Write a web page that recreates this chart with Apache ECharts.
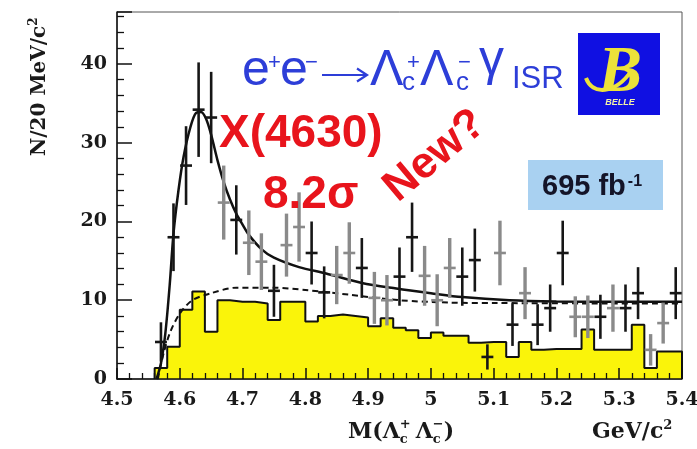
<!DOCTYPE html>
<html><head><meta charset="utf-8">
<script src="https://cdn.jsdelivr.net/npm/echarts@6/dist/echarts.min.js"></script>
<style>html,body{margin:0;padding:0;background:#fff}#c{width:697px;height:449px}</style>
</head><body><div id="c"></div>
<script>
// ---- data ----
const dataMass = [4.57,4.59,4.61,4.63,4.65,4.67,4.69,4.71,4.73,4.75,4.77,4.79,4.81,4.83,4.85,4.87,4.89,4.91,4.93,4.95,4.97,4.99,5.01,5.03,5.05,5.07,5.09,5.11,5.13,5.15,5.17,5.19,5.21,5.23,5.25,5.27,5.29,5.31,5.33,5.35,5.37,5.39];
const dataCounts = [4.7,18.0,27.1,34.2,33.2,22.4,20.2,17.3,14.9,11.2,17.0,19.3,16.0,11.0,13.2,16.0,14.1,10.3,10.0,13.0,18.0,13.1,10.0,14.1,13.0,15.1,2.8,16.0,6.9,10.9,6.9,9.0,16.0,7.9,7.9,7.9,9.0,9.0,10.9,3.7,7.1,10.9];
const dataErrors = [2.5,4.3,5.0,6.0,5.8,4.7,4.4,4.1,3.6,3.3,4.0,4.4,4.0,3.3,3.7,3.9,3.8,3.3,3.2,3.7,4.4,3.8,3.3,3.8,3.7,4.0,1.6,4.1,2.7,3.3,2.6,3.0,4.1,2.6,2.7,2.8,3.0,3.0,3.3,2.0,2.6,3.3];
const dataShade = [0,0,0,0,0,1,0,1,1,0,1,1,0,0,1,1,0,1,1,0,0,1,1,1,0,0,0,1,0,1,0,0,0,1,1,0,1,0,0,1,1,0]; // 0 = black, 1 = grey

const histEdges = [4.56,4.58,4.60,4.62,4.64,4.66,4.68,4.70,4.72,4.74,4.76,4.78,4.80,4.82,4.84,4.86,4.88,4.90,4.92,4.94,4.96,4.98,5.00,5.02,5.04,5.06,5.08,5.10,5.12,5.14,5.16,5.18,5.20,5.22,5.24,5.26,5.28,5.30,5.32,5.34,5.36,5.38,5.40];
const histValues = [1.4,4.1,8.8,11.1,6.0,10.0,9.8,9.8,9.6,7.5,9.8,9.8,7.3,8.0,8.2,8.0,7.8,6.7,7.7,6.5,6.2,5.2,5.9,5.5,5.5,4.6,4.7,4.7,2.8,4.7,3.7,3.8,3.8,3.8,6.3,3.7,3.7,3.7,6.9,1.4,3.5,3.5];

const fitMass  = [4.563,4.570,4.577,4.584,4.590,4.598,4.606,4.617,4.626,4.634,4.642,4.650,4.660,4.670,4.680,4.690,4.700,4.710,4.730,4.750,4.790,4.833,4.890,4.945,5.000,5.050,5.125,5.200,5.300,5.400];
const fitTotal = [0,2.0,5.8,12.0,18.5,24.0,28.2,32.0,33.8,33.9,33.0,31.0,27.8,25.0,22.8,21.0,19.6,18.3,16.5,15.4,14.2,13.4,12.2,11.5,10.9,10.4,10.0,9.85,9.8,9.8];

const bkgMass = [4.565,4.575,4.585,4.600,4.620,4.650,4.690,4.750,4.800,4.870,4.950,5.030,5.100,5.250,5.400];
const bkgFit  = [0,3.5,6.0,8.3,10.0,10.9,11.6,11.6,11.3,10.7,10.0,9.7,9.65,9.6,9.6];

const xMin = 4.5, xMax = 5.4, xStep = 0.1;
const yMin = 0, yMax = 46.6, yStep = 10;

// ---- build series data ----
const histLine = [[histEdges[0], 0]];
histValues.forEach((v, i) => { histLine.push([histEdges[i], v]); histLine.push([histEdges[i + 1], v]); });
histLine.push([histEdges[histEdges.length - 1], 0]);

const pointsBlack = [], pointsGrey = [];
dataMass.forEach((m, i) => {
  (dataShade[i] ? pointsGrey : pointsBlack).push([m, dataCounts[i], dataErrors[i]]);
});
const totalLine = fitMass.map((m, i) => [m, fitTotal[i]]);
const bkgLine = bkgMass.map((m, i) => [m, bkgFit[i]]);

function barRenderer(color, vw) {
  return function (params, api) {
    const m = api.value(0), v = api.value(1), e = api.value(2);
    const top = api.coord([m, v + e]), bot = api.coord([m, Math.max(v - e, 0)]);
    const l = api.coord([m - 0.0095, v]), r = api.coord([m + 0.0095, v]);
    return { type: 'group', children: [
      { type: 'line', shape: { x1: top[0], y1: top[1], x2: bot[0], y2: bot[1] }, style: { stroke: color, lineWidth: vw } },
      { type: 'line', shape: { x1: l[0], y1: l[1], x2: r[0], y2: r[1] }, style: { stroke: color, lineWidth: 2.6 } }
    ]};
  };
}

// ---- text helpers ----
const mctx = document.createElement('canvas').getContext('2d');
function fontStr(size, bold, family, italic) { return (italic ? 'italic ' : '') + (bold ? 'bold ' : '') + size + 'px "' + family + '"'; }
function textW(t, font) { mctx.font = font; return mctx.measureText(t).width; }
function txt(t, x, base, size, opt) {
  opt = opt || {};
  const fam = opt.family || 'Liberation Sans';
  const k = fam.indexOf('DejaVu') >= 0 ? 0.38 : (fam.indexOf('Serif') >= 0 ? 0.3375 : 0.3465);
  const st = { text: t, font: fontStr(size, opt.bold, fam, opt.italic), fill: opt.fill || '#000',
    align: opt.align || 'left', verticalAlign: 'middle' };
  if (opt.shadow) { st.shadowColor = opt.shadow; st.shadowOffsetX = 2.5; st.shadowOffsetY = 2.5; st.shadowBlur = 1; }
  const el = { type: 'text', x: x, y: base - k * size, z: 100, silent: true, style: st };
  if (opt.rotation) el.rotation = opt.rotation;
  return el;
}
function row(x0, base, parts, common) {
  let x = x0; const out = [];
  for (const p of parts) {
    if (p.gap) { x += p.gap; continue; }
    const o = Object.assign({}, common, p.opt || {});
    out.push(txt(p.t, x, base + (p.dy || 0), p.size, o));
    if (!p.noAdvance) x += textW(p.t, fontStr(p.size, o.bold, o.family || 'Liberation Sans', o.italic));
  }
  return out;
}

const blue = '#2d3ed8', red = '#e8141c', redShadow = '#7a0000';
const serifB = { family: 'DejaVu Serif', bold: true, fill: '#1a1a1a' };

const graphics = [];
// formula e+e- -> Lc+ Lc- gamma_ISR
const formula = [
  ['e', 242, 89, 50], ['+', 268, 71, 22], ['e', 280, 89, 50], ['\u2212', 305, 71, 22],
  ['\u039B', 370, 89, 50], ['c', 402, 92, 26], ['+', 407, 71, 22],
  ['\u039B', 420, 89, 50], ['c', 456, 92, 26], ['\u2212', 458, 71, 22], ['\u03B3', 479, 79, 50], ['ISR', 512, 90, 31]
];
formula.forEach(f => graphics.push(txt(f[0], f[1], f[2], f[3], { fill: blue })));
// long arrow
graphics.push({ type: 'line', z: 100, silent: true, shape: { x1: 322, y1: 75, x2: 366, y2: 75 }, style: { stroke: blue, lineWidth: 2.2 } });
graphics.push({ type: 'polyline', z: 100, silent: true, shape: { points: [[357, 68.5], [367, 75], [357, 81.5]] }, style: { stroke: blue, lineWidth: 2.2, fill: null } });

// Belle logo
graphics.push({ type: 'rect', z: 90, silent: true, shape: { x: 578, y: 33, width: 82, height: 82 }, style: { fill: '#1010e2' } });
graphics.push({ type: 'bezierCurve', z: 95, silent: true, shape: { x1: 586, y1: 78, cpx1: 592, cpy1: 95, x2: 632, y2: 70, cpx2: 615, cpy2: 95 }, style: { stroke: '#ece23a', lineWidth: 4, fill: null } });
graphics.push(txt('B', 620, 96, 66, { family: 'Liberation Serif', italic: true, bold: true, fill: '#ece23a', align: 'center' }));
graphics.push(txt('BELLE', 620, 106, 9, { italic: true, bold: true, fill: '#f2f0a8', align: 'center' }));

// red labels
graphics.push(txt('X(4630)', 219, 150, 46, { bold: true, fill: red, shadow: redShadow }));
graphics.push(txt('8.2\u03C3', 263, 211, 46, { bold: true, fill: red, shadow: redShadow }));
graphics.push({ type: 'text', x: 435, y: 156, rotation: 40 * Math.PI / 180, z: 100, silent: true,
  style: { text: 'New?', font: 'bold 44px "Liberation Sans"', fill: red, align: 'center', verticalAlign: 'middle',
    shadowColor: redShadow, shadowOffsetX: 2.5, shadowOffsetY: 2.5, shadowBlur: 1 } });

// luminosity box
graphics.push({ type: 'rect', z: 90, silent: true, shape: { x: 528, y: 160, width: 135, height: 50 }, style: { fill: '#a9d1f1' } });
graphics.push(...row(542, 197, [{ t: '695 fb', size: 29 }, { gap: 2 }, { t: '-1', size: 16, dy: -10 }], { bold: true, fill: '#141428' }));

// y axis title (rotated)
graphics.push({ type: 'group', x: 40, y: 86, rotation: Math.PI / 2, silent: true,
  children: row(-70, 7, [{ t: 'N/20 MeV/c', size: 20 }, { t: '2', size: 12, dy: -9 }], serifB) });

// x axis title
graphics.push(...row(348, 441, [
  { t: 'M(\u039B', size: 22 }, { t: 'c', size: 13, dy: 4, noAdvance: true }, { t: '+', size: 13, dy: -11 },
  { gap: 5 }, { t: '\u039B', size: 22 }, { t: 'c', size: 13, dy: 4, noAdvance: true }, { t: '\u2212', size: 13, dy: -11 },
  { t: ')', size: 22 }
], serifB));
graphics.push(...row(592, 441, [{ t: 'GeV/c', size: 22 }, { t: '2', size: 13, dy: -10 }], serifB));

const axisLabelFont = { color: '#1a1a1a', fontFamily: 'DejaVu Serif', fontWeight: 'bold' };

const chart = echarts.init(document.getElementById('c'), null, { renderer: 'canvas', width: 697, height: 449 });
chart.setOption({
  animation: false,
  backgroundColor: '#ffffff',
  grid: { left: 117, right: 15, top: 12, bottom: 70, show: true, borderColor: '#555', borderWidth: 1, outerBoundsMode: 'none', containLabel: false },
  xAxis: {
    type: 'value', min: xMin, max: xMax, interval: xStep, z: 10,
    axisLine: { show: true, onZero: false, lineStyle: { color: '#111', width: 1.5 } },
    axisTick: { show: true, inside: true, length: 11, lineStyle: { color: '#111', width: 1.5 } },
    minorTick: { show: true, splitNumber: 5, length: 6, lineStyle: { color: '#111', width: 1.3 } },
    splitLine: { show: false }, minorSplitLine: { show: false },
    axisLabel: Object.assign({ margin: 12, fontSize: 19 }, axisLabelFont)
  },
  yAxis: {
    type: 'value', min: yMin, max: yMax, interval: yStep, z: 10,
    axisLine: { show: true, onZero: false, lineStyle: { color: '#111', width: 1.5 } },
    axisTick: { show: true, inside: true, length: 15, lineStyle: { color: '#111', width: 1.5 } },
    minorTick: { show: true, splitNumber: 5, length: 7, lineStyle: { color: '#111', width: 1.3 } },
    splitLine: { show: false }, minorSplitLine: { show: false },
    axisLabel: Object.assign({ margin: 10, fontSize: 19, showMaxLabel: false }, axisLabelFont)
  },
  series: [
    { type: 'line', data: histLine, symbol: 'none', z: 2, silent: true,
      lineStyle: { color: '#111', width: 2 }, areaStyle: { color: '#faf40a', opacity: 1 } },
    { type: 'line', data: bkgLine, symbol: 'none', smooth: 0.3, z: 3, silent: true,
      lineStyle: { color: '#111', width: 2, type: [6, 4] } },
    { type: 'line', data: totalLine, symbol: 'none', smooth: 0.3, z: 4, silent: true,
      lineStyle: { color: '#111', width: 2.5 } },
    { type: 'custom', data: pointsGrey, z: 5, silent: true, encode: { x: 0, y: 1 }, renderItem: barRenderer('#8a8a8a', 3.4) },
    { type: 'custom', data: pointsBlack, z: 6, silent: true, encode: { x: 0, y: 1 }, renderItem: barRenderer('#161616', 2.6) }
  ],
  graphic: graphics
});
</script></body></html>
